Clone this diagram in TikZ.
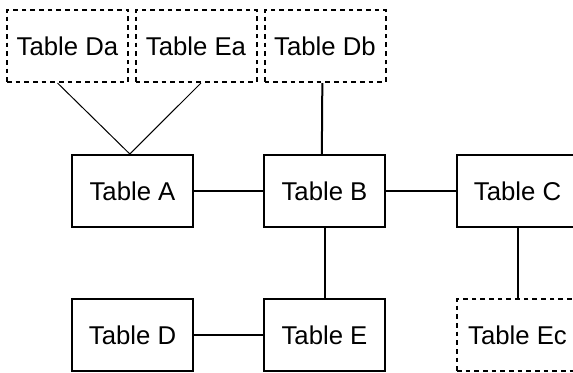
\documentclass[tikz,border=0pt]{standalone}
\usepackage{fontspec}
\setmainfont{Liberation Sans}
\begin{document}
\begin{tikzpicture}[x=0.75pt, y=-0.75pt,
		tbl/.style={draw=black, line width=1.5pt, minimum width=90.75pt, minimum height=54pt, inner sep=0, font=\fontsize{19.3}{23}\selectfont},
		extra/.style={tbl, dash pattern=on 3.5pt off 3pt},
		link/.style={line width=1.5pt},
		thinlink/.style={line width=0.75pt}]
		\useasboundingbox (0, 0) rectangle (573, 372);
		\clip (0, 0) rectangle (573, 372);
		\node[extra] (Da) at (67.5, 46) {Table Da};
		\node[extra] (Ea) at (196, 46) {Table Ea};
		\node[extra] (Db) at (325, 46) {Table Db};
		\node[tbl] (A) at (132.5, 191) {Table A};
		\node[tbl] (B) at (324.5, 191) {Table B};
		\node[tbl] (C) at (517.5, 191) {Table C};
		\node[tbl] (D) at (132.5, 335) {Table D};
		\node[tbl] (E) at (324.5, 335) {Table E};
		\node[extra] (Ec) at (517.5, 335) {Table Ec};
		\draw[thinlink] ([xshift=-7.5pt]Da.south) -- ([xshift=-2pt]A.north);
		\draw[thinlink] ([xshift=3.75pt]Ea.south) -- ([xshift=-2pt]A.north);
		\draw[link] ([xshift=-2pt]Db.south) -- ([xshift=-2pt]B.north);
		\draw[link] (A) -- (B);
		\draw[link] (B) -- (C);
		\draw[link] (B) -- (E);
		\draw[link] (D) -- (E);
		\draw[link] (C) -- (Ec);
	\end{tikzpicture}
\end{document}
